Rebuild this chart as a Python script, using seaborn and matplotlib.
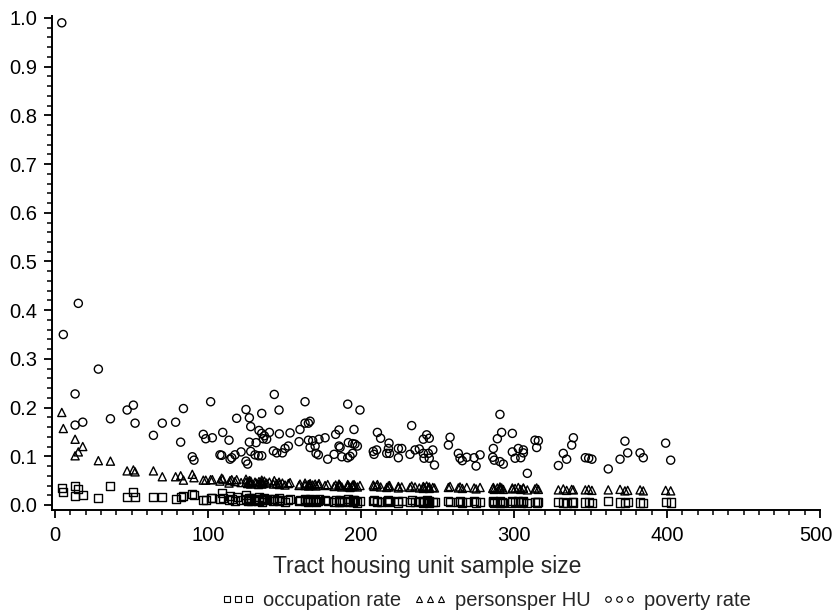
import numpy as np
import pandas as pd
import matplotlib
matplotlib.use("Agg")
import matplotlib.pyplot as plt
import matplotlib.transforms as mtransforms
from matplotlib.lines import Line2D
from matplotlib.ticker import MultipleLocator
import seaborn as sns

# tract sample size (shared x for all three series)
sample_size = [
    4.4, 5.4, 13.1, 13.1, 15.2, 18.1, 28.3, 36.2, 47.1, 51.2,
    52.3, 64.3, 70.1, 78.8, 82.1, 83.9, 89.7, 90.8, 96.9, 98.5,
    101.7, 102.8, 107.8, 108.9, 109.6, 113.7, 114.4, 115.5, 117.6, 118.7,
    121.6, 124.8, 124.8, 125.9, 127.0, 127.0, 127.9, 127.9, 130.7, 131.4,
    133.3, 133.0, 135.1, 135.1, 135.1, 136.1, 136.8, 138.3, 140.1, 142.7,
    143.3, 144.9, 146.4, 146.6, 148.6, 150.3, 152.5, 153.6, 159.5, 160.1,
    163.4, 163.4, 165.6, 165.6, 166.7, 166.7, 168.4, 170.0, 170.6, 172.1,
    172.5, 176.5, 178.2, 182.4, 183.4, 185.6, 185.6, 186.3, 187.4, 191.3,
    191.3, 191.7, 192.8, 194.5, 194.5, 195.4, 196.0, 197.6, 199.3, 208.0,
    208.5, 210.2, 210.7, 212.8, 216.8, 217.9, 218.3, 218.6, 224.4, 224.4,
    226.6, 232.0, 233.1, 235.3, 238.1, 240.7, 240.7, 241.2, 242.9, 244.0,
    244.6, 244.6, 246.9, 248.0, 257.1, 258.2, 263.6, 264.7, 266.2, 269.1,
    273.9, 275.2, 277.8, 286.1, 286.5, 287.1, 289.1, 290.8, 290.8, 291.9,
    293.0, 298.9, 298.9, 300.7, 302.8, 304.4, 306.1, 306.1, 308.7, 313.7,
    314.8, 315.9, 329.0, 332.2, 334.4, 337.7, 338.8, 346.6, 348.8, 350.9,
    361.6, 369.3, 372.5, 374.3, 382.4, 384.5, 399.1, 402.4,
]

poverty_rate = [
    0.990, 0.350, 0.228, 0.164, 0.414, 0.170, 0.279, 0.177, 0.195, 0.205,
    0.168, 0.143, 0.168, 0.170, 0.129, 0.198, 0.099, 0.092, 0.145, 0.136,
    0.212, 0.138, 0.103, 0.102, 0.149, 0.133, 0.094, 0.097, 0.103, 0.178,
    0.109, 0.196, 0.090, 0.084, 0.179, 0.129, 0.161, 0.110, 0.103, 0.128,
    0.153, 0.101, 0.188, 0.147, 0.101, 0.136, 0.142, 0.135, 0.149, 0.111,
    0.227, 0.107, 0.195, 0.146, 0.107, 0.116, 0.121, 0.148, 0.130, 0.155,
    0.212, 0.168, 0.168, 0.133, 0.172, 0.118, 0.132, 0.121, 0.106, 0.103,
    0.135, 0.138, 0.094, 0.104, 0.145, 0.154, 0.121, 0.118, 0.099, 0.207,
    0.097, 0.128, 0.100, 0.126, 0.106, 0.155, 0.125, 0.121, 0.195, 0.110,
    0.104, 0.113, 0.149, 0.137, 0.106, 0.116, 0.127, 0.106, 0.116, 0.097,
    0.116, 0.104, 0.163, 0.113, 0.115, 0.135, 0.106, 0.096, 0.144, 0.106,
    0.137, 0.096, 0.113, 0.082, 0.123, 0.139, 0.106, 0.096, 0.091, 0.098,
    0.097, 0.080, 0.103, 0.098, 0.116, 0.092, 0.136, 0.186, 0.089, 0.149,
    0.084, 0.147, 0.109, 0.096, 0.116, 0.097, 0.113, 0.107, 0.065, 0.133,
    0.118, 0.132, 0.081, 0.106, 0.094, 0.123, 0.138, 0.097, 0.096, 0.094,
    0.074, 0.094, 0.131, 0.107, 0.107, 0.097, 0.127, 0.092,
]

persons_per_hu = [
    0.190, 0.157, 0.135, 0.101, 0.109, 0.120, 0.091, 0.090, 0.070, 0.072,
    0.068, 0.070, 0.058, 0.058, 0.060, 0.051, 0.063, 0.056, 0.051, 0.051,
    0.052, 0.052, 0.049, 0.055, 0.053, 0.045, 0.050, 0.052, 0.048, 0.052,
    0.046, 0.053, 0.047, 0.044, 0.050, 0.046, 0.049, 0.043, 0.047, 0.045,
    0.048, 0.042, 0.051, 0.046, 0.043, 0.044, 0.049, 0.045, 0.047, 0.043,
    0.050, 0.044, 0.047, 0.042, 0.045, 0.041, 0.044, 0.046, 0.040, 0.043,
    0.045, 0.040, 0.042, 0.039, 0.044, 0.040, 0.041, 0.043, 0.039, 0.041,
    0.044, 0.040, 0.042, 0.038, 0.041, 0.043, 0.039, 0.040, 0.037, 0.042,
    0.038, 0.040, 0.036, 0.041, 0.038, 0.042, 0.039, 0.037, 0.040, 0.041,
    0.038, 0.039, 0.042, 0.037, 0.036, 0.039, 0.037, 0.040, 0.038, 0.035,
    0.037, 0.036, 0.039, 0.037, 0.035, 0.038, 0.034, 0.036, 0.039, 0.035,
    0.037, 0.034, 0.036, 0.035, 0.036, 0.038, 0.035, 0.037, 0.034, 0.036,
    0.035, 0.033, 0.036, 0.034, 0.036, 0.032, 0.035, 0.037, 0.033, 0.035,
    0.032, 0.035, 0.033, 0.034, 0.036, 0.032, 0.034, 0.035, 0.031, 0.033,
    0.035, 0.032, 0.031, 0.033, 0.030, 0.032, 0.031, 0.031, 0.032, 0.030,
    0.031, 0.032, 0.029, 0.030, 0.031, 0.029, 0.030, 0.029,
]

occupation_rate = [
    0.034, 0.027, 0.039, 0.019, 0.032, 0.020, 0.014, 0.039, 0.016, 0.027,
    0.016, 0.017, 0.017, 0.012, 0.016, 0.018, 0.022, 0.020, 0.011, 0.010,
    0.015, 0.015, 0.013, 0.025, 0.014, 0.010, 0.018, 0.012, 0.009, 0.016,
    0.011, 0.020, 0.012, 0.009, 0.015, 0.011, 0.014, 0.008, 0.012, 0.010,
    0.016, 0.009, 0.013, 0.011, 0.007, 0.012, 0.015, 0.010, 0.013, 0.008,
    0.012, 0.010, 0.014, 0.009, 0.011, 0.007, 0.010, 0.012, 0.008, 0.011,
    0.013, 0.009, 0.010, 0.007, 0.012, 0.008, 0.010, 0.011, 0.007, 0.009,
    0.012, 0.010, 0.008, 0.006, 0.011, 0.009, 0.007, 0.010, 0.006, 0.012,
    0.008, 0.009, 0.006, 0.010, 0.007, 0.011, 0.008, 0.005, 0.009, 0.008,
    0.011, 0.006, 0.009, 0.007, 0.008, 0.010, 0.006, 0.009, 0.008, 0.005,
    0.009, 0.007, 0.010, 0.006, 0.008, 0.009, 0.005, 0.007, 0.010, 0.006,
    0.008, 0.004, 0.007, 0.006, 0.008, 0.007, 0.006, 0.008, 0.005, 0.007,
    0.009, 0.005, 0.007, 0.006, 0.008, 0.004, 0.007, 0.009, 0.005, 0.006,
    0.004, 0.008, 0.005, 0.007, 0.009, 0.005, 0.006, 0.008, 0.004, 0.007,
    0.005, 0.006, 0.006, 0.005, 0.004, 0.007, 0.005, 0.005, 0.006, 0.004,
    0.008, 0.005, 0.004, 0.006, 0.005, 0.004, 0.006, 0.005,
]

series_names = ["occupation rate", "personsper HU", "poverty rate"]
series_markers = {"occupation rate": "s", "personsper HU": "^", "poverty rate": "o"}

df = pd.concat([
    pd.DataFrame({"x": sample_size, "y": occupation_rate, "series": series_names[0]}),
    pd.DataFrame({"x": sample_size, "y": persons_per_hu, "series": series_names[1]}),
    pd.DataFrame({"x": sample_size, "y": poverty_rate, "series": series_names[2]}),
])

sns.set_style("ticks")
plt.rcParams["font.family"] = ["Liberation Sans", "DejaVu Sans"]

fig = plt.figure(figsize=(8.35, 6.15), dpi=100)
ax = fig.add_axes([52 / 835, 1 - 510 / 615, 768 / 835, 494 / 615])

sns.scatterplot(data=df, x="x", y="y", style="series", markers=series_markers,
                s=34, facecolor="none", edgecolor="black", linewidth=1.0,
                legend=False, ax=ax)

ax.set_xlim(-2, 500)
ax.set_ylim(-0.0103, 1.004)
ax.xaxis.set_minor_locator(MultipleLocator(10))
ax.yaxis.set_minor_locator(MultipleLocator(0.02))
ax.set_yticks([i / 10 for i in range(11)])
ax.set_yticklabels([f"{i / 10:.1f}" for i in range(11)])
ax.set_xticks(range(0, 501, 100))

ax.tick_params(which="major", length=5.5, width=1.3, labelsize=14.5, direction="out",
               colors="black", pad=5)
ax.tick_params(which="minor", length=3.3, width=1.1, direction="out", colors="black")
ax.tick_params(axis="x", which="major", pad=6)
for side in ["top", "right"]:
    ax.spines[side].set_visible(False)
for side in ["left", "bottom"]:
    ax.spines[side].set_linewidth(1.4)
    ax.spines[side].set_color("black")

# keep the last x label inside the canvas
last = ax.get_xticklabels()[-1]
last.set_transform(last.get_transform() +
                   mtransforms.ScaledTranslation(-4 / 100, 0, fig.dpi_scale_trans))

ax.set_xlabel("Tract housing unit sample size", fontsize=16.5)
ax.xaxis.set_label_coords((427 - 52) / 768, -0.092)
ax.set_ylabel("")

handles = [Line2D([], [], linestyle="none", marker=series_markers[n], markersize=4,
                  markerfacecolor="none", markeredgecolor="black", markeredgewidth=0.8)
           for n in series_names]
fig.legend(handles, series_names, loc="center", bbox_to_anchor=(486 / 835, 1 - 601 / 615),
           ncol=3, numpoints=3, frameon=False, fontsize=14.5, handlelength=1.7,
           handletextpad=0.4, columnspacing=0.55, borderpad=0)

fig.savefig("out.png", dpi=100)
